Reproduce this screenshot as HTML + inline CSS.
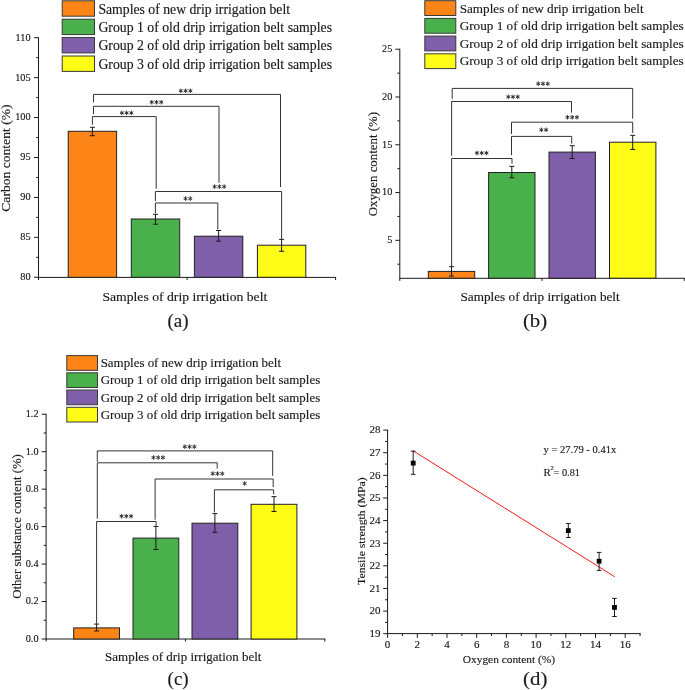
<!DOCTYPE html><html><head><meta charset="utf-8"><title>Figure</title><style>html,body{margin:0;padding:0;background:#fff;overflow:hidden;}svg{display:block;font-family:"Liberation Serif",serif;will-change:transform;}text{stroke:#1a1a1a;stroke-width:0.15px;}</style></head><body>
<svg width="685" height="690" viewBox="0 0 685 690">
<rect width="685" height="690" fill="#fff"/>
<rect x="62.2" y="0.8" width="32.3" height="15.4" fill="#FD8416" stroke="#3a3a3a" stroke-width="1"/>
<text x="98.4" y="13.9" font-size="14" fill="#1a1a1a" textLength="191.7" lengthAdjust="spacingAndGlyphs">Samples of new drip irrigation belt</text>
<rect x="62.2" y="19.2" width="32.3" height="15.4" fill="#4AB04B" stroke="#3a3a3a" stroke-width="1"/>
<text x="98.4" y="32" font-size="14" fill="#1a1a1a" textLength="233.6" lengthAdjust="spacingAndGlyphs">Group 1 of old drip irrigation belt samples</text>
<rect x="62.2" y="37.5" width="32.3" height="15.4" fill="#7F5FA9" stroke="#3a3a3a" stroke-width="1"/>
<text x="98.4" y="50.2" font-size="14" fill="#1a1a1a" textLength="233.6" lengthAdjust="spacingAndGlyphs">Group 2 of old drip irrigation belt samples</text>
<rect x="62.2" y="56" width="32.3" height="15.4" fill="#FFFC17" stroke="#3a3a3a" stroke-width="1"/>
<text x="98.4" y="68.5" font-size="14" fill="#1a1a1a" textLength="233.6" lengthAdjust="spacingAndGlyphs">Group 3 of old drip irrigation belt samples</text>
<line x1="38.5" y1="37.19" x2="38.5" y2="277.3" stroke="#1a1a1a" stroke-width="1"/>
<line x1="34.1" y1="37.69" x2="38.5" y2="37.69" stroke="#1a1a1a" stroke-width="1"/>
<text x="30.6" y="40.59" font-size="10.3" text-anchor="end" fill="#1a1a1a">110</text>
<line x1="34.1" y1="77.62" x2="38.5" y2="77.62" stroke="#1a1a1a" stroke-width="1"/>
<text x="30.6" y="80.53" font-size="10.3" text-anchor="end" fill="#1a1a1a">105</text>
<line x1="34.1" y1="117.56" x2="38.5" y2="117.56" stroke="#1a1a1a" stroke-width="1"/>
<text x="30.6" y="120.46" font-size="10.3" text-anchor="end" fill="#1a1a1a">100</text>
<line x1="34.1" y1="157.5" x2="38.5" y2="157.5" stroke="#1a1a1a" stroke-width="1"/>
<text x="30.6" y="160.4" font-size="10.3" text-anchor="end" fill="#1a1a1a">95</text>
<line x1="34.1" y1="197.43" x2="38.5" y2="197.43" stroke="#1a1a1a" stroke-width="1"/>
<text x="30.6" y="200.33" font-size="10.3" text-anchor="end" fill="#1a1a1a">90</text>
<line x1="34.1" y1="237.37" x2="38.5" y2="237.37" stroke="#1a1a1a" stroke-width="1"/>
<text x="30.6" y="240.27" font-size="10.3" text-anchor="end" fill="#1a1a1a">85</text>
<line x1="34.1" y1="277.3" x2="38.5" y2="277.3" stroke="#1a1a1a" stroke-width="1"/>
<text x="30.6" y="280.2" font-size="10.3" text-anchor="end" fill="#1a1a1a">80</text>
<line x1="36.1" y1="257.33" x2="38.5" y2="257.33" stroke="#1a1a1a" stroke-width="1"/>
<line x1="36.1" y1="217.4" x2="38.5" y2="217.4" stroke="#1a1a1a" stroke-width="1"/>
<line x1="36.1" y1="177.46" x2="38.5" y2="177.46" stroke="#1a1a1a" stroke-width="1"/>
<line x1="36.1" y1="137.53" x2="38.5" y2="137.53" stroke="#1a1a1a" stroke-width="1"/>
<line x1="36.1" y1="97.59" x2="38.5" y2="97.59" stroke="#1a1a1a" stroke-width="1"/>
<line x1="36.1" y1="57.66" x2="38.5" y2="57.66" stroke="#1a1a1a" stroke-width="1"/>
<line x1="38" y1="277.4" x2="336.1" y2="277.4" stroke="#1a1a1a" stroke-width="1"/>
<line x1="38.5" y1="277.4" x2="38.5" y2="280" stroke="#1a1a1a" stroke-width="1"/>
<line x1="187.1" y1="277.4" x2="187.1" y2="280" stroke="#1a1a1a" stroke-width="1"/>
<line x1="335.6" y1="277.4" x2="335.6" y2="280" stroke="#1a1a1a" stroke-width="1"/>
<rect x="68.2" y="131.3" width="48.4" height="146" fill="#FD8416" stroke="#222" stroke-width="1"/>
<line x1="92.4" y1="127.3" x2="92.4" y2="135.7" stroke="#1a1a1a" stroke-width="1"/>
<line x1="89.9" y1="127.3" x2="94.9" y2="127.3" stroke="#1a1a1a" stroke-width="1"/>
<line x1="89.9" y1="135.7" x2="94.9" y2="135.7" stroke="#1a1a1a" stroke-width="1"/>
<rect x="131.3" y="219" width="48.4" height="58.3" fill="#4AB04B" stroke="#222" stroke-width="1"/>
<line x1="155.5" y1="214.3" x2="155.5" y2="224.2" stroke="#1a1a1a" stroke-width="1"/>
<line x1="153" y1="214.3" x2="158" y2="214.3" stroke="#1a1a1a" stroke-width="1"/>
<line x1="153" y1="224.2" x2="158" y2="224.2" stroke="#1a1a1a" stroke-width="1"/>
<rect x="194.4" y="236.2" width="48.4" height="41.1" fill="#7F5FA9" stroke="#222" stroke-width="1"/>
<line x1="218.6" y1="230.5" x2="218.6" y2="241.2" stroke="#1a1a1a" stroke-width="1"/>
<line x1="216.1" y1="230.5" x2="221.1" y2="230.5" stroke="#1a1a1a" stroke-width="1"/>
<line x1="216.1" y1="241.2" x2="221.1" y2="241.2" stroke="#1a1a1a" stroke-width="1"/>
<rect x="257.4" y="245.2" width="48.4" height="32.1" fill="#FFFC17" stroke="#222" stroke-width="1"/>
<line x1="281.6" y1="239.4" x2="281.6" y2="251.3" stroke="#1a1a1a" stroke-width="1"/>
<line x1="279.1" y1="239.4" x2="284.1" y2="239.4" stroke="#1a1a1a" stroke-width="1"/>
<line x1="279.1" y1="251.3" x2="284.1" y2="251.3" stroke="#1a1a1a" stroke-width="1"/>
<polyline points="93.5,102.4 93.5,94.4 280.5,94.4 280.5,187" fill="none" stroke="#333" stroke-width="1"/>
<polyline points="93.5,114 93.5,106.3 219,106.3 219,182.8" fill="none" stroke="#333" stroke-width="1"/>
<polyline points="92.4,124.7 92.4,116.6 156.2,116.6 156.2,188.8" fill="none" stroke="#333" stroke-width="1"/>
<polyline points="155.4,201.1 155.4,191.5 281.6,191.5 281.6,238.9" fill="none" stroke="#333" stroke-width="1"/>
<polyline points="155.4,213.2 155.4,203 217.8,203 217.8,229.6" fill="none" stroke="#333" stroke-width="1"/>
<path d="M180.85 88.55L180.85 93.05M178.9 89.67L182.8 91.92M182.8 89.67L178.9 91.92M185.6 88.55L185.6 93.05M183.65 89.67L187.55 91.92M187.55 89.67L183.65 91.92M190.35 88.55L190.35 93.05M188.4 89.67L192.3 91.92M192.3 89.67L188.4 91.92" stroke="#2a2a2a" stroke-width="0.95" fill="none"/>
<path d="M151.75 99.95L151.75 104.45M149.8 101.08L153.7 103.33M153.7 101.08L149.8 103.33M156.5 99.95L156.5 104.45M154.55 101.08L158.45 103.33M158.45 101.08L154.55 103.33M161.25 99.95L161.25 104.45M159.3 101.08L163.2 103.33M163.2 101.08L159.3 103.33" stroke="#2a2a2a" stroke-width="0.95" fill="none"/>
<path d="M121.85 110.65L121.85 115.15M119.9 111.78L123.8 114.03M123.8 111.78L119.9 114.03M126.6 110.65L126.6 115.15M124.65 111.78L128.55 114.03M128.55 111.78L124.65 114.03M131.35 110.65L131.35 115.15M129.4 111.78L133.3 114.03M133.3 111.78L129.4 114.03" stroke="#2a2a2a" stroke-width="0.95" fill="none"/>
<path d="M214.65 184.35L214.65 188.85M212.7 185.47L216.6 187.72M216.6 185.47L212.7 187.72M219.4 184.35L219.4 188.85M217.45 185.47L221.35 187.72M221.35 185.47L217.45 187.72M224.15 184.35L224.15 188.85M222.2 185.47L226.1 187.72M226.1 185.47L222.2 187.72" stroke="#2a2a2a" stroke-width="0.95" fill="none"/>
<path d="M185.53 196.35L185.53 200.85M183.58 197.47L187.47 199.72M187.47 197.47L183.58 199.72M190.28 196.35L190.28 200.85M188.33 197.47L192.22 199.72M192.22 197.47L188.33 199.72" stroke="#2a2a2a" stroke-width="0.95" fill="none"/>
<text transform="translate(9.9,158.1) rotate(-90)" font-size="13.5" text-anchor="middle" fill="#1a1a1a" textLength="107.2" lengthAdjust="spacingAndGlyphs">Carbon content (%)</text>
<text x="102.4" y="301" font-size="12.8" fill="#1a1a1a" textLength="164.9" lengthAdjust="spacingAndGlyphs">Samples of drip irrigation belt</text>
<text x="178.05" y="326.9" font-size="19" text-anchor="middle" fill="#1a1a1a">(a)</text>
<rect x="424.8" y="0.7" width="31" height="14.8" fill="#FD8416" stroke="#3a3a3a" stroke-width="1"/>
<text x="459.7" y="12.8" font-size="13.3" fill="#1a1a1a" textLength="184" lengthAdjust="spacingAndGlyphs">Samples of new drip irrigation belt</text>
<rect x="424.8" y="18.4" width="31" height="14.8" fill="#4AB04B" stroke="#3a3a3a" stroke-width="1"/>
<text x="459.7" y="30.3" font-size="13.3" fill="#1a1a1a" textLength="224" lengthAdjust="spacingAndGlyphs">Group 1 of old drip irrigation belt samples</text>
<rect x="424.8" y="36.1" width="31" height="14.8" fill="#7F5FA9" stroke="#3a3a3a" stroke-width="1"/>
<text x="459.7" y="47.8" font-size="13.3" fill="#1a1a1a" textLength="224" lengthAdjust="spacingAndGlyphs">Group 2 of old drip irrigation belt samples</text>
<rect x="424.8" y="53.8" width="31" height="14.8" fill="#FFFC17" stroke="#3a3a3a" stroke-width="1"/>
<text x="459.7" y="65.4" font-size="13.3" fill="#1a1a1a" textLength="224" lengthAdjust="spacingAndGlyphs">Group 3 of old drip irrigation belt samples</text>
<line x1="399.8" y1="48.73" x2="399.8" y2="278.3" stroke="#1a1a1a" stroke-width="1"/>
<line x1="395.4" y1="49.23" x2="399.8" y2="49.23" stroke="#1a1a1a" stroke-width="1"/>
<text x="392.4" y="52.13" font-size="10.3" text-anchor="end" fill="#1a1a1a">25</text>
<line x1="395.4" y1="97" x2="399.8" y2="97" stroke="#1a1a1a" stroke-width="1"/>
<text x="392.4" y="99.9" font-size="10.3" text-anchor="end" fill="#1a1a1a">20</text>
<line x1="395.4" y1="144.78" x2="399.8" y2="144.78" stroke="#1a1a1a" stroke-width="1"/>
<text x="392.4" y="147.68" font-size="10.3" text-anchor="end" fill="#1a1a1a">15</text>
<line x1="395.4" y1="192.55" x2="399.8" y2="192.55" stroke="#1a1a1a" stroke-width="1"/>
<text x="392.4" y="195.45" font-size="10.3" text-anchor="end" fill="#1a1a1a">10</text>
<line x1="395.4" y1="240.33" x2="399.8" y2="240.33" stroke="#1a1a1a" stroke-width="1"/>
<text x="392.4" y="243.23" font-size="10.3" text-anchor="end" fill="#1a1a1a">5</text>
<line x1="397.4" y1="73.11" x2="399.8" y2="73.11" stroke="#1a1a1a" stroke-width="1"/>
<line x1="397.4" y1="120.89" x2="399.8" y2="120.89" stroke="#1a1a1a" stroke-width="1"/>
<line x1="397.4" y1="168.66" x2="399.8" y2="168.66" stroke="#1a1a1a" stroke-width="1"/>
<line x1="397.4" y1="216.44" x2="399.8" y2="216.44" stroke="#1a1a1a" stroke-width="1"/>
<line x1="397.4" y1="264.21" x2="399.8" y2="264.21" stroke="#1a1a1a" stroke-width="1"/>
<line x1="399.3" y1="278.3" x2="684.8" y2="278.3" stroke="#1a1a1a" stroke-width="1"/>
<line x1="399.8" y1="278.3" x2="399.8" y2="280.9" stroke="#1a1a1a" stroke-width="1"/>
<line x1="542.05" y1="278.3" x2="542.05" y2="280.9" stroke="#1a1a1a" stroke-width="1"/>
<line x1="684.3" y1="278.3" x2="684.3" y2="280.9" stroke="#1a1a1a" stroke-width="1"/>
<rect x="428.3" y="271.4" width="46.4" height="6.8" fill="#FD8416" stroke="#222" stroke-width="1"/>
<line x1="451.5" y1="266.7" x2="451.5" y2="276.1" stroke="#1a1a1a" stroke-width="1"/>
<line x1="449" y1="266.7" x2="454" y2="266.7" stroke="#1a1a1a" stroke-width="1"/>
<line x1="449" y1="276.1" x2="454" y2="276.1" stroke="#1a1a1a" stroke-width="1"/>
<rect x="488.6" y="172.5" width="46.4" height="105.7" fill="#4AB04B" stroke="#222" stroke-width="1"/>
<line x1="511.8" y1="166.4" x2="511.8" y2="177.7" stroke="#1a1a1a" stroke-width="1"/>
<line x1="509.3" y1="166.4" x2="514.3" y2="166.4" stroke="#1a1a1a" stroke-width="1"/>
<line x1="509.3" y1="177.7" x2="514.3" y2="177.7" stroke="#1a1a1a" stroke-width="1"/>
<rect x="549" y="152.1" width="46.4" height="126.1" fill="#7F5FA9" stroke="#222" stroke-width="1"/>
<line x1="572.2" y1="145.7" x2="572.2" y2="158.5" stroke="#1a1a1a" stroke-width="1"/>
<line x1="569.7" y1="145.7" x2="574.7" y2="145.7" stroke="#1a1a1a" stroke-width="1"/>
<line x1="569.7" y1="158.5" x2="574.7" y2="158.5" stroke="#1a1a1a" stroke-width="1"/>
<rect x="609.5" y="142.2" width="46.4" height="136" fill="#FFFC17" stroke="#222" stroke-width="1"/>
<line x1="632.7" y1="135.3" x2="632.7" y2="149.4" stroke="#1a1a1a" stroke-width="1"/>
<line x1="630.2" y1="135.3" x2="635.2" y2="135.3" stroke="#1a1a1a" stroke-width="1"/>
<line x1="630.2" y1="149.4" x2="635.2" y2="149.4" stroke="#1a1a1a" stroke-width="1"/>
<polyline points="452.2,98.9 452.2,88.4 632.7,88.4 632.7,118.7" fill="none" stroke="#333" stroke-width="1"/>
<polyline points="451.6,155.8 451.6,101.5 571.5,101.5 571.5,112.6" fill="none" stroke="#333" stroke-width="1"/>
<polyline points="511.5,134 511.5,122.2 632.7,122.2 632.7,133" fill="none" stroke="#333" stroke-width="1"/>
<polyline points="511.5,155 511.5,136.4 571.7,136.4 571.7,143.6" fill="none" stroke="#333" stroke-width="1"/>
<polyline points="451.6,266.4 451.6,158.5 512,158.5 512,163.7" fill="none" stroke="#333" stroke-width="1"/>
<path d="M538.25 81.45L538.25 85.95M536.3 82.58L540.2 84.83M540.2 82.58L536.3 84.83M543 81.45L543 85.95M541.05 82.58L544.95 84.83M544.95 82.58L541.05 84.83M547.75 81.45L547.75 85.95M545.8 82.58L549.7 84.83M549.7 82.58L545.8 84.83" stroke="#2a2a2a" stroke-width="0.95" fill="none"/>
<path d="M508.25 94.55L508.25 99.05M506.3 95.67L510.2 97.92M510.2 95.67L506.3 97.92M513 94.55L513 99.05M511.05 95.67L514.95 97.92M514.95 95.67L511.05 97.92M517.75 94.55L517.75 99.05M515.8 95.67L519.7 97.92M519.7 95.67L515.8 97.92" stroke="#2a2a2a" stroke-width="0.95" fill="none"/>
<path d="M567.45 115.05L567.45 119.55M565.5 116.17L569.4 118.42M569.4 116.17L565.5 118.42M572.2 115.05L572.2 119.55M570.25 116.17L574.15 118.42M574.15 116.17L570.25 118.42M576.95 115.05L576.95 119.55M575 116.17L578.9 118.42M578.9 116.17L575 118.42" stroke="#2a2a2a" stroke-width="0.95" fill="none"/>
<path d="M541.33 127.55L541.33 132.05M539.38 128.68L543.27 130.93M543.27 128.68L539.38 130.93M546.08 127.55L546.08 132.05M544.13 128.68L548.02 130.93M548.02 128.68L544.13 130.93" stroke="#2a2a2a" stroke-width="0.95" fill="none"/>
<path d="M476.95 150.75L476.95 155.25M475 151.88L478.9 154.12M478.9 151.88L475 154.12M481.7 150.75L481.7 155.25M479.75 151.88L483.65 154.12M483.65 151.88L479.75 154.12M486.45 150.75L486.45 155.25M484.5 151.88L488.4 154.12M488.4 151.88L484.5 154.12" stroke="#2a2a2a" stroke-width="0.95" fill="none"/>
<text transform="translate(377.1,164.15) rotate(-90)" font-size="13.3" text-anchor="middle" fill="#1a1a1a" textLength="104.3" lengthAdjust="spacingAndGlyphs">Oxygen content (%)</text>
<text x="460.5" y="300.9" font-size="12.8" fill="#1a1a1a" textLength="159.2" lengthAdjust="spacingAndGlyphs">Samples of drip irrigation belt</text>
<text x="535.05" y="327.1" font-size="19.5" text-anchor="middle" fill="#1a1a1a" textLength="24.3" lengthAdjust="spacingAndGlyphs">(b)</text>
<rect x="66.8" y="355.6" width="30.7" height="14.7" fill="#FD8416" stroke="#3a3a3a" stroke-width="1"/>
<text x="100.7" y="367.2" font-size="12.7" fill="#1a1a1a" textLength="180.3" lengthAdjust="spacingAndGlyphs">Samples of new drip irrigation belt</text>
<rect x="66.8" y="372.8" width="30.7" height="14.7" fill="#4AB04B" stroke="#3a3a3a" stroke-width="1"/>
<text x="100.7" y="384.4" font-size="12.7" fill="#1a1a1a" textLength="219.5" lengthAdjust="spacingAndGlyphs">Group 1 of old drip irrigation belt samples</text>
<rect x="66.8" y="390" width="30.7" height="14.7" fill="#7F5FA9" stroke="#3a3a3a" stroke-width="1"/>
<text x="100.7" y="401.5" font-size="12.7" fill="#1a1a1a" textLength="219.5" lengthAdjust="spacingAndGlyphs">Group 2 of old drip irrigation belt samples</text>
<rect x="66.8" y="407.3" width="30.7" height="14.7" fill="#FFFC17" stroke="#3a3a3a" stroke-width="1"/>
<text x="100.7" y="418.5" font-size="12.7" fill="#1a1a1a" textLength="219.5" lengthAdjust="spacingAndGlyphs">Group 3 of old drip irrigation belt samples</text>
<line x1="46.1" y1="413.74" x2="46.1" y2="639" stroke="#1a1a1a" stroke-width="1"/>
<line x1="41.7" y1="414.24" x2="46.1" y2="414.24" stroke="#1a1a1a" stroke-width="1"/>
<text x="38.6" y="417.14" font-size="10.3" text-anchor="end" fill="#1a1a1a">1.2</text>
<line x1="41.7" y1="451.7" x2="46.1" y2="451.7" stroke="#1a1a1a" stroke-width="1"/>
<text x="38.6" y="454.6" font-size="10.3" text-anchor="end" fill="#1a1a1a">1.0</text>
<line x1="41.7" y1="489.16" x2="46.1" y2="489.16" stroke="#1a1a1a" stroke-width="1"/>
<text x="38.6" y="492.06" font-size="10.3" text-anchor="end" fill="#1a1a1a">0.8</text>
<line x1="41.7" y1="526.62" x2="46.1" y2="526.62" stroke="#1a1a1a" stroke-width="1"/>
<text x="38.6" y="529.52" font-size="10.3" text-anchor="end" fill="#1a1a1a">0.6</text>
<line x1="41.7" y1="564.08" x2="46.1" y2="564.08" stroke="#1a1a1a" stroke-width="1"/>
<text x="38.6" y="566.98" font-size="10.3" text-anchor="end" fill="#1a1a1a">0.4</text>
<line x1="41.7" y1="601.54" x2="46.1" y2="601.54" stroke="#1a1a1a" stroke-width="1"/>
<text x="38.6" y="604.44" font-size="10.3" text-anchor="end" fill="#1a1a1a">0.2</text>
<line x1="41.7" y1="639" x2="46.1" y2="639" stroke="#1a1a1a" stroke-width="1"/>
<text x="38.6" y="641.9" font-size="10.3" text-anchor="end" fill="#1a1a1a">0.0</text>
<line x1="43.7" y1="620.27" x2="46.1" y2="620.27" stroke="#1a1a1a" stroke-width="1"/>
<line x1="43.7" y1="582.81" x2="46.1" y2="582.81" stroke="#1a1a1a" stroke-width="1"/>
<line x1="43.7" y1="545.35" x2="46.1" y2="545.35" stroke="#1a1a1a" stroke-width="1"/>
<line x1="43.7" y1="507.89" x2="46.1" y2="507.89" stroke="#1a1a1a" stroke-width="1"/>
<line x1="43.7" y1="470.43" x2="46.1" y2="470.43" stroke="#1a1a1a" stroke-width="1"/>
<line x1="43.7" y1="432.97" x2="46.1" y2="432.97" stroke="#1a1a1a" stroke-width="1"/>
<line x1="45.6" y1="639" x2="325.3" y2="639" stroke="#1a1a1a" stroke-width="1"/>
<line x1="46.1" y1="639" x2="46.1" y2="641.6" stroke="#1a1a1a" stroke-width="1"/>
<line x1="185.45" y1="639" x2="185.45" y2="641.6" stroke="#1a1a1a" stroke-width="1"/>
<line x1="324.8" y1="639" x2="324.8" y2="641.6" stroke="#1a1a1a" stroke-width="1"/>
<rect x="73.7" y="627.9" width="45.8" height="11.1" fill="#FD8416" stroke="#222" stroke-width="1"/>
<line x1="96.6" y1="624.1" x2="96.6" y2="631" stroke="#1a1a1a" stroke-width="1"/>
<line x1="94.1" y1="624.1" x2="99.1" y2="624.1" stroke="#1a1a1a" stroke-width="1"/>
<line x1="94.1" y1="631" x2="99.1" y2="631" stroke="#1a1a1a" stroke-width="1"/>
<rect x="133" y="538.1" width="45.8" height="100.9" fill="#4AB04B" stroke="#222" stroke-width="1"/>
<line x1="155.9" y1="526.4" x2="155.9" y2="549.5" stroke="#1a1a1a" stroke-width="1"/>
<line x1="153.4" y1="526.4" x2="158.4" y2="526.4" stroke="#1a1a1a" stroke-width="1"/>
<line x1="153.4" y1="549.5" x2="158.4" y2="549.5" stroke="#1a1a1a" stroke-width="1"/>
<rect x="192" y="523.2" width="45.8" height="115.8" fill="#7F5FA9" stroke="#222" stroke-width="1"/>
<line x1="214.9" y1="513.6" x2="214.9" y2="532.3" stroke="#1a1a1a" stroke-width="1"/>
<line x1="212.4" y1="513.6" x2="217.4" y2="513.6" stroke="#1a1a1a" stroke-width="1"/>
<line x1="212.4" y1="532.3" x2="217.4" y2="532.3" stroke="#1a1a1a" stroke-width="1"/>
<rect x="251.1" y="504.3" width="45.8" height="134.7" fill="#FFFC17" stroke="#222" stroke-width="1"/>
<line x1="274" y1="496.6" x2="274" y2="511.5" stroke="#1a1a1a" stroke-width="1"/>
<line x1="271.5" y1="496.6" x2="276.5" y2="496.6" stroke="#1a1a1a" stroke-width="1"/>
<line x1="271.5" y1="511.5" x2="276.5" y2="511.5" stroke="#1a1a1a" stroke-width="1"/>
<polyline points="97.3,461.9 97.3,450.9 272.7,450.9 272.7,475.9" fill="none" stroke="#333" stroke-width="1"/>
<polyline points="97.3,518.8 97.3,462.8 217.2,462.8 217.2,468.6" fill="none" stroke="#333" stroke-width="1"/>
<polyline points="155.1,519.7 155.1,479 273.2,479 273.2,487" fill="none" stroke="#333" stroke-width="1"/>
<polyline points="214.4,512.4 214.4,489.8 273.6,489.8 273.6,494.3" fill="none" stroke="#333" stroke-width="1"/>
<polyline points="96.6,623.9 96.6,521.5 156.1,521.5 156.1,525.8" fill="none" stroke="#333" stroke-width="1"/>
<path d="M184.85 444.45L184.85 448.95M182.9 445.57L186.8 447.82M186.8 445.57L182.9 447.82M189.6 444.45L189.6 448.95M187.65 445.57L191.55 447.82M191.55 445.57L187.65 447.82M194.35 444.45L194.35 448.95M192.4 445.57L196.3 447.82M196.3 445.57L192.4 447.82" stroke="#2a2a2a" stroke-width="0.95" fill="none"/>
<path d="M153.45 455.25L153.45 459.75M151.5 456.38L155.4 458.62M155.4 456.38L151.5 458.62M158.2 455.25L158.2 459.75M156.25 456.38L160.15 458.62M160.15 456.38L156.25 458.62M162.95 455.25L162.95 459.75M161 456.38L164.9 458.62M164.9 456.38L161 458.62" stroke="#2a2a2a" stroke-width="0.95" fill="none"/>
<path d="M212.75 471.35L212.75 475.85M210.8 472.48L214.7 474.73M214.7 472.48L210.8 474.73M217.5 471.35L217.5 475.85M215.55 472.48L219.45 474.73M219.45 472.48L215.55 474.73M222.25 471.35L222.25 475.85M220.3 472.48L224.2 474.73M224.2 472.48L220.3 474.73" stroke="#2a2a2a" stroke-width="0.95" fill="none"/>
<path d="M244.7 481.25L244.7 485.75M242.75 482.38L246.65 484.62M246.65 482.38L242.75 484.62" stroke="#2a2a2a" stroke-width="0.95" fill="none"/>
<path d="M121.55 513.95L121.55 518.45M119.6 515.08L123.5 517.33M123.5 515.08L119.6 517.33M126.3 513.95L126.3 518.45M124.35 515.08L128.25 517.33M128.25 515.08L124.35 517.33M131.05 513.95L131.05 518.45M129.1 515.08L133 517.33M133 515.08L129.1 517.33" stroke="#2a2a2a" stroke-width="0.95" fill="none"/>
<text transform="translate(21.3,526.5) rotate(-90)" font-size="13" text-anchor="middle" fill="#1a1a1a" textLength="144.6" lengthAdjust="spacingAndGlyphs">Other substance content (%)</text>
<text x="105.1" y="660.5" font-size="12.3" fill="#1a1a1a" textLength="156.3" lengthAdjust="spacingAndGlyphs">Samples of drip irrigation belt</text>
<text x="178.15" y="685.1" font-size="19" text-anchor="middle" fill="#1a1a1a">(c)</text>
<line x1="387.6" y1="429.62" x2="387.6" y2="633.6" stroke="#1a1a1a" stroke-width="1"/>
<line x1="383.2" y1="633.7" x2="387.6" y2="633.7" stroke="#1a1a1a" stroke-width="1"/>
<text x="380.4" y="637" font-size="11" text-anchor="end" fill="#1a1a1a">19</text>
<line x1="383.2" y1="611.08" x2="387.6" y2="611.08" stroke="#1a1a1a" stroke-width="1"/>
<text x="380.4" y="614.38" font-size="11" text-anchor="end" fill="#1a1a1a">20</text>
<line x1="383.2" y1="588.46" x2="387.6" y2="588.46" stroke="#1a1a1a" stroke-width="1"/>
<text x="380.4" y="591.76" font-size="11" text-anchor="end" fill="#1a1a1a">21</text>
<line x1="383.2" y1="565.84" x2="387.6" y2="565.84" stroke="#1a1a1a" stroke-width="1"/>
<text x="380.4" y="569.14" font-size="11" text-anchor="end" fill="#1a1a1a">22</text>
<line x1="383.2" y1="543.22" x2="387.6" y2="543.22" stroke="#1a1a1a" stroke-width="1"/>
<text x="380.4" y="546.52" font-size="11" text-anchor="end" fill="#1a1a1a">23</text>
<line x1="383.2" y1="520.6" x2="387.6" y2="520.6" stroke="#1a1a1a" stroke-width="1"/>
<text x="380.4" y="523.9" font-size="11" text-anchor="end" fill="#1a1a1a">24</text>
<line x1="383.2" y1="497.98" x2="387.6" y2="497.98" stroke="#1a1a1a" stroke-width="1"/>
<text x="380.4" y="501.28" font-size="11" text-anchor="end" fill="#1a1a1a">25</text>
<line x1="383.2" y1="475.36" x2="387.6" y2="475.36" stroke="#1a1a1a" stroke-width="1"/>
<text x="380.4" y="478.66" font-size="11" text-anchor="end" fill="#1a1a1a">26</text>
<line x1="383.2" y1="452.74" x2="387.6" y2="452.74" stroke="#1a1a1a" stroke-width="1"/>
<text x="380.4" y="456.04" font-size="11" text-anchor="end" fill="#1a1a1a">27</text>
<line x1="383.2" y1="430.12" x2="387.6" y2="430.12" stroke="#1a1a1a" stroke-width="1"/>
<text x="380.4" y="433.42" font-size="11" text-anchor="end" fill="#1a1a1a">28</text>
<line x1="385.1" y1="622.39" x2="387.6" y2="622.39" stroke="#1a1a1a" stroke-width="1"/>
<line x1="385.1" y1="599.77" x2="387.6" y2="599.77" stroke="#1a1a1a" stroke-width="1"/>
<line x1="385.1" y1="577.15" x2="387.6" y2="577.15" stroke="#1a1a1a" stroke-width="1"/>
<line x1="385.1" y1="554.53" x2="387.6" y2="554.53" stroke="#1a1a1a" stroke-width="1"/>
<line x1="385.1" y1="531.91" x2="387.6" y2="531.91" stroke="#1a1a1a" stroke-width="1"/>
<line x1="385.1" y1="509.29" x2="387.6" y2="509.29" stroke="#1a1a1a" stroke-width="1"/>
<line x1="385.1" y1="486.67" x2="387.6" y2="486.67" stroke="#1a1a1a" stroke-width="1"/>
<line x1="385.1" y1="464.05" x2="387.6" y2="464.05" stroke="#1a1a1a" stroke-width="1"/>
<line x1="385.1" y1="441.43" x2="387.6" y2="441.43" stroke="#1a1a1a" stroke-width="1"/>
<line x1="387.1" y1="633.6" x2="640.6" y2="633.6" stroke="#1a1a1a" stroke-width="1"/>
<line x1="387.6" y1="633.6" x2="387.6" y2="637.8" stroke="#1a1a1a" stroke-width="1"/>
<text x="387.6" y="648.4" font-size="11" text-anchor="middle" fill="#1a1a1a">0</text>
<line x1="417.3" y1="633.6" x2="417.3" y2="637.8" stroke="#1a1a1a" stroke-width="1"/>
<text x="417.3" y="648.4" font-size="11" text-anchor="middle" fill="#1a1a1a">2</text>
<line x1="447" y1="633.6" x2="447" y2="637.8" stroke="#1a1a1a" stroke-width="1"/>
<text x="447" y="648.4" font-size="11" text-anchor="middle" fill="#1a1a1a">4</text>
<line x1="476.7" y1="633.6" x2="476.7" y2="637.8" stroke="#1a1a1a" stroke-width="1"/>
<text x="476.7" y="648.4" font-size="11" text-anchor="middle" fill="#1a1a1a">6</text>
<line x1="506.4" y1="633.6" x2="506.4" y2="637.8" stroke="#1a1a1a" stroke-width="1"/>
<text x="506.4" y="648.4" font-size="11" text-anchor="middle" fill="#1a1a1a">8</text>
<line x1="536.1" y1="633.6" x2="536.1" y2="637.8" stroke="#1a1a1a" stroke-width="1"/>
<text x="536.1" y="648.4" font-size="11" text-anchor="middle" fill="#1a1a1a">10</text>
<line x1="565.8" y1="633.6" x2="565.8" y2="637.8" stroke="#1a1a1a" stroke-width="1"/>
<text x="565.8" y="648.4" font-size="11" text-anchor="middle" fill="#1a1a1a">12</text>
<line x1="595.5" y1="633.6" x2="595.5" y2="637.8" stroke="#1a1a1a" stroke-width="1"/>
<text x="595.5" y="648.4" font-size="11" text-anchor="middle" fill="#1a1a1a">14</text>
<line x1="625.2" y1="633.6" x2="625.2" y2="637.8" stroke="#1a1a1a" stroke-width="1"/>
<text x="625.2" y="648.4" font-size="11" text-anchor="middle" fill="#1a1a1a">16</text>
<line x1="402.45" y1="633.6" x2="402.45" y2="636" stroke="#1a1a1a" stroke-width="1"/>
<line x1="432.15" y1="633.6" x2="432.15" y2="636" stroke="#1a1a1a" stroke-width="1"/>
<line x1="461.85" y1="633.6" x2="461.85" y2="636" stroke="#1a1a1a" stroke-width="1"/>
<line x1="491.55" y1="633.6" x2="491.55" y2="636" stroke="#1a1a1a" stroke-width="1"/>
<line x1="521.25" y1="633.6" x2="521.25" y2="636" stroke="#1a1a1a" stroke-width="1"/>
<line x1="550.95" y1="633.6" x2="550.95" y2="636" stroke="#1a1a1a" stroke-width="1"/>
<line x1="580.65" y1="633.6" x2="580.65" y2="636" stroke="#1a1a1a" stroke-width="1"/>
<line x1="610.35" y1="633.6" x2="610.35" y2="636" stroke="#1a1a1a" stroke-width="1"/>
<line x1="640.05" y1="633.6" x2="640.05" y2="636" stroke="#1a1a1a" stroke-width="1"/>
<line x1="412.85" y1="450.64" x2="614.81" y2="576.77" stroke="#ff1a1a" stroke-width="1"/>
<line x1="413.2" y1="451.2" x2="413.2" y2="474.3" stroke="#1a1a1a" stroke-width="1"/>
<line x1="410.9" y1="451.2" x2="415.5" y2="451.2" stroke="#1a1a1a" stroke-width="1"/>
<line x1="410.9" y1="474.3" x2="415.5" y2="474.3" stroke="#1a1a1a" stroke-width="1"/>
<rect x="410.8" y="460.7" width="4.8" height="4.8" fill="#000"/>
<line x1="568.3" y1="523.5" x2="568.3" y2="537.5" stroke="#1a1a1a" stroke-width="1"/>
<line x1="566" y1="523.5" x2="570.6" y2="523.5" stroke="#1a1a1a" stroke-width="1"/>
<line x1="566" y1="537.5" x2="570.6" y2="537.5" stroke="#1a1a1a" stroke-width="1"/>
<rect x="565.9" y="528.2" width="4.8" height="4.8" fill="#000"/>
<line x1="599.1" y1="552.4" x2="599.1" y2="570.4" stroke="#1a1a1a" stroke-width="1"/>
<line x1="596.8" y1="552.4" x2="601.4" y2="552.4" stroke="#1a1a1a" stroke-width="1"/>
<line x1="596.8" y1="570.4" x2="601.4" y2="570.4" stroke="#1a1a1a" stroke-width="1"/>
<rect x="596.7" y="558.8" width="4.8" height="4.8" fill="#000"/>
<line x1="614.5" y1="598.4" x2="614.5" y2="616.5" stroke="#1a1a1a" stroke-width="1"/>
<line x1="612.2" y1="598.4" x2="616.8" y2="598.4" stroke="#1a1a1a" stroke-width="1"/>
<line x1="612.2" y1="616.5" x2="616.8" y2="616.5" stroke="#1a1a1a" stroke-width="1"/>
<rect x="612.1" y="605" width="4.8" height="4.8" fill="#000"/>
<text x="543.5" y="452.7" font-size="10.8" fill="#1a1a1a" textLength="72.7" lengthAdjust="spacingAndGlyphs">y = 27.79 - 0.41x</text>
<text x="543.5" y="475.6" font-size="10.8" fill="#1a1a1a">R</text>
<text x="550.6" y="470.3" font-size="6.5" fill="#1a1a1a">2</text>
<text x="553.6" y="475.6" font-size="10.8" fill="#1a1a1a" textLength="26.4" lengthAdjust="spacingAndGlyphs">= 0.81</text>
<text transform="translate(364.9,531.15) rotate(-90)" font-size="11.3" text-anchor="middle" fill="#1a1a1a" textLength="107.5" lengthAdjust="spacingAndGlyphs">Tensile strength (MPa)</text>
<text x="462.8" y="662.9" font-size="11.3" fill="#1a1a1a" textLength="92.3" lengthAdjust="spacingAndGlyphs">Oxygen content (%)</text>
<text x="535.25" y="685.3" font-size="19.5" text-anchor="middle" fill="#1a1a1a" textLength="24.3" lengthAdjust="spacingAndGlyphs">(d)</text>
</svg></body></html>
